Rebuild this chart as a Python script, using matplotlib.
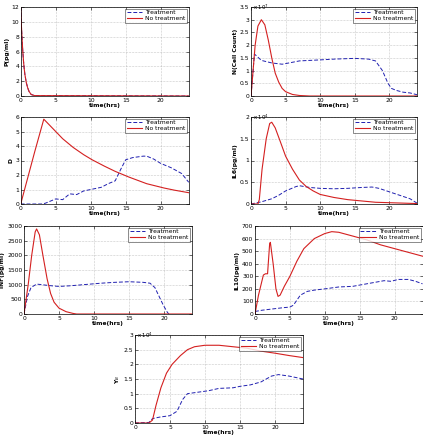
import matplotlib
matplotlib.use("Agg")
import matplotlib.pyplot as plt

W, H = 423, 437

# ---------------- data ----------------
# Panel 1: P(pg/ml)
p_t = [0, 0.1, 0.2, 0.3, 0.4, 0.5, 0.6, 0.8, 1.0, 1.2, 1.5, 2.0, 24]
p_no = [12, 9.5, 7.6, 6.0, 4.7, 3.7, 2.9, 1.8, 1.1, 0.6, 0.2, 0.05, 0]
p_tr = [12, 9.5, 7.6, 6.0, 4.7, 3.7, 2.9, 1.8, 1.1, 0.6, 0.2, 0.05, 0]

# Panel 2: N(Cell Count), units of 1e7
n_t_no = [0, 0.3, 0.6, 1.0, 1.5, 2.0, 2.5, 3.0, 3.5, 4.0, 4.5, 5.0, 6.0, 7.0, 8.5, 24]
n_no = [0, 1.0, 2.0, 2.75, 3.0, 2.8, 2.2, 1.5, 0.9, 0.55, 0.3, 0.17, 0.06, 0.02, 0, 0]
n_t_tr = [0, 0.5, 1.5, 3, 4.5, 5.5, 7, 10, 12, 15, 17, 18, 19, 19.8, 20.3, 21, 22, 23, 24]
n_tr = [0, 1.65, 1.4, 1.3, 1.25, 1.3, 1.38, 1.42, 1.45, 1.48, 1.45, 1.38, 1.0, 0.5, 0.3, 0.22, 0.15, 0.12, 0.05]

# Panel 3: D
d_t_no = [0, 1, 2, 3.3, 4, 5, 6, 7.5, 9, 10.2, 12, 13.5, 15.5, 18, 20.5, 22, 24]
d_no = [0, 1.8, 3.6, 5.85, 5.5, 5.0, 4.5, 3.9, 3.4, 3.05, 2.6, 2.25, 1.85, 1.4, 1.1, 0.95, 0.78]
d_t_tr = [0, 3, 3.5, 5, 6, 7, 8, 9, 10.5, 11.5, 12.5, 13.5, 14.3, 15, 16, 17.5, 18, 19, 20, 21.5, 23, 24]
d_tr = [0, 0, 0.05, 0.35, 0.3, 0.7, 0.65, 0.9, 1.05, 1.15, 1.4, 1.6, 2.4, 3.05, 3.2, 3.3, 3.3, 3.1, 2.8, 2.5, 2.1, 1.5]

# Panel 4: IL6(pg/ml), units of 1e4
il6_t_no = [0, 1.0, 1.2, 1.6, 2.2, 2.7, 3.0, 3.5, 4.2, 5, 6, 7, 8, 9, 10, 12, 14, 16, 18, 20, 24]
il6_no = [0, 0, 0.1, 0.8, 1.5, 1.85, 1.88, 1.75, 1.45, 1.1, 0.8, 0.55, 0.4, 0.3, 0.22, 0.15, 0.1, 0.07, 0.04, 0.03, 0.01]
il6_t_tr = [0, 1.5, 3, 4, 5, 6.5, 7, 8.5, 10, 12, 14, 16, 17.5, 18.5, 20, 21.5, 23, 24]
il6_tr = [0, 0.05, 0.12, 0.2, 0.3, 0.4, 0.42, 0.38, 0.36, 0.35, 0.36, 0.38, 0.39, 0.36, 0.28, 0.2, 0.12, 0.02]

# Panel 5: TNF(pg/ml)
tnf_t_no = [0, 0.6, 1.1, 1.6, 1.8, 2.2, 2.7, 3.3, 3.8, 4.3, 5, 6, 7, 7.5, 24]
tnf_no = [0, 1000, 2000, 2800, 2900, 2700, 2000, 1200, 700, 400, 200, 80, 20, 0, 0]
tnf_t_tr = [0, 0.5, 1, 1.8, 2.5, 4, 5, 6.5, 8.5, 11, 13, 15, 17, 18, 18.7, 19.3, 19.9, 20.5, 20.7]
tnf_tr = [0, 600, 900, 1020, 1000, 960, 940, 960, 1000, 1050, 1080, 1100, 1080, 1050, 900, 600, 300, 50, 0]

# Panel 6: IL10(pg/ml)
il10_t_no = [0, 0.5, 1.2, 1.5, 1.8, 2.1, 2.2, 2.6, 3.0, 3.3, 3.6, 4.2, 5, 6, 7, 8.5, 10, 11, 12, 14, 16, 18, 20, 22, 24]
il10_no = [0, 150, 310, 320, 320, 560, 570, 400, 200, 140, 150, 220, 300, 420, 520, 600, 640, 655, 650, 620, 590, 550, 520, 490, 460]
il10_t_tr = [0, 1, 2.5, 4, 5, 5.5, 6, 6.5, 7.5, 8.5, 10, 12, 14, 15.5, 17.5, 18.5, 19.5, 20.5, 22, 23, 24]
il10_tr = [20, 30, 40, 50, 55, 70, 110, 150, 180, 190, 200, 215, 220, 235, 255, 265, 260, 275, 275, 260, 240]

# Panel 7: Y_B, units of 1e4
yb_t_no = [0, 2, 2.5, 3, 3.7, 4.5, 5.3, 6.5, 7.5, 8.5, 10, 12, 14, 16, 18, 20, 22, 24]
yb_no = [0, 0, 0.1, 0.6, 1.2, 1.7, 2.0, 2.3, 2.5, 2.6, 2.65, 2.65, 2.6, 2.55, 2.45, 2.38, 2.3, 2.23]
yb_t_tr = [0, 2, 2.5, 3.5, 5, 6, 6.8, 7.5, 9, 10.5, 12, 14, 15, 16.5, 18, 19.5, 20.5, 22, 24]
yb_tr = [0, 0.02, 0.15, 0.2, 0.25, 0.4, 0.8, 1.0, 1.05, 1.1, 1.18, 1.2, 1.25, 1.3, 1.4, 1.6, 1.65, 1.6, 1.5]

xticks = [0, 5, 10, 15, 20]

fig = plt.figure(figsize=(W / 100, H / 100), dpi=100)

FS = 4.3

def make_ax(left, right, top, bottom, ylim, yticks, ylabel, mult=None):
    ax = fig.add_axes([left / W, 1 - bottom / H, (right - left) / W, (bottom - top) / H])
    ax.set_xlim(0, 24)
    ax.set_ylim(*ylim)
    ax.set_xticks(xticks)
    ax.set_yticks(yticks)
    ax.set_yticklabels([("%g" % v) for v in yticks])
    ax.tick_params(direction="in", length=2, width=0.4, labelsize=FS, pad=1.2,
                   top=True, right=True)
    ax.grid(True, linestyle=":", linewidth=0.4, color="#9a9a9a")
    for s in ax.spines.values():
        s.set_linewidth(0.5)
    ax.set_xlabel("time(hrs)", fontsize=FS, labelpad=0.5, fontweight="bold")
    ax.set_ylabel(ylabel, fontsize=FS, labelpad=1.5, fontweight="bold")
    if mult:
        ax.text(0.01, 1.0, mult, transform=ax.transAxes, fontsize=3.9,
                va="center", ha="left")
    return ax

def draw(ax, tt, ytr, tn, yno, legloc="upper right"):
    ax.plot(tt, ytr, color="#2020b0", linestyle=(0, (4, 2)), linewidth=0.7, label="Treatment")
    ax.plot(tn, yno, color="#d42020", linestyle="-", linewidth=0.8, label="No treatment")
    leg = ax.legend(loc=legloc, fontsize=FS, frameon=True, fancybox=False,
                    borderpad=0.25, labelspacing=0.1, handlelength=2.6,
                    handletextpad=0.5, borderaxespad=0.3)
    leg.get_frame().set_linewidth(0.4)
    leg.get_frame().set_edgecolor("black")

ax1 = make_ax(20.7, 188.7, 7, 96, (0, 12), [0, 2, 4, 6, 8, 10, 12], "P(pg/ml)")
draw(ax1, p_t, p_tr, p_t, p_no)

ax2 = make_ax(251, 417, 7, 96, (0, 3.5), [0, 0.5, 1, 1.5, 2, 2.5, 3, 3.5], "N(Cell Count)", r"x 10$^7$")
draw(ax2, n_t_tr, n_tr, n_t_no, n_no)

ax3 = make_ax(20.7, 188.7, 117, 204, (0, 6), [0, 1, 2, 3, 4, 5, 6], "D")
draw(ax3, d_t_tr, d_tr, d_t_no, d_no)

ax4 = make_ax(251, 417, 117, 204, (0, 2), [0, 0.5, 1, 1.5, 2], "IL6(pg/ml)", r"x 10$^4$")
draw(ax4, il6_t_tr, il6_tr, il6_t_no, il6_no)

ax5 = make_ax(24, 192, 226, 314, (0, 3000), [0, 500, 1000, 1500, 2000, 2500, 3000], "TNF(pg/ml)")
draw(ax5, tnf_t_tr, tnf_tr, tnf_t_no, tnf_no)

ax6 = make_ax(255, 422.5, 226, 314, (0, 700), [0, 100, 200, 300, 400, 500, 600, 700], "IL10(pg/ml)")
draw(ax6, il10_t_tr, il10_tr, il10_t_no, il10_no)

ax7 = make_ax(135, 303, 335, 423, (0, 3), [0, 0.5, 1, 1.5, 2, 2.5, 3], r"Y$_B$", r"x 10$^4$")
draw(ax7, yb_t_tr, yb_tr, yb_t_no, yb_no)

fig.savefig("out.png", dpi=100)
